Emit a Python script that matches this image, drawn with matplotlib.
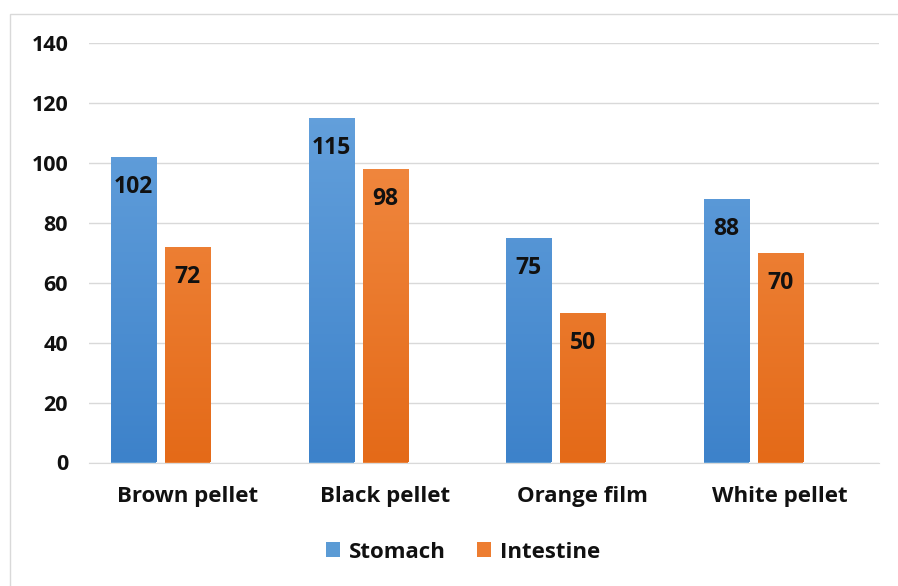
import numpy as np
import matplotlib
matplotlib.use("Agg")
import matplotlib.pyplot as plt
from matplotlib.patches import Rectangle
from matplotlib.colors import LinearSegmentedColormap

categories = ["Brown pellet", "Black pellet", "Orange film", "White pellet"]
stomach = [102, 115, 75, 88]
intestine = [72, 98, 50, 70]
series_names = ["Stomach", "Intestine"]
yticks = [0, 20, 40, 60, 80, 100, 120, 140]

plt.rcParams['font.family'] = ['Open Sans', 'DejaVu Sans']

fig = plt.figure(figsize=(8.98, 5.86), dpi=100)
ax = fig.add_axes([89/898, (586-462.5)/586, (879-89)/898, (462.5-42.7)/586])

# chart border
fig.patches.append(Rectangle((10/898, -0.1), 1.1, (586-14)/586 + 0.1, transform=fig.transFigure,
                             fill=False, edgecolor='#d9d9d9', linewidth=1.0))

x = np.arange(len(categories))
w = 0.228
off = 0.274
blue_cmap = LinearSegmentedColormap.from_list('b', ['#3d82ca', '#6ba6df'])
orange_cmap = LinearSegmentedColormap.from_list('o', ['#e46a18', '#f5924d'])

grad = np.linspace(0, 1, 256).reshape(-1, 1)
for vals, xpos, cmap, col, name in [(stomach, x - off, blue_cmap, '#5b9bd5', series_names[0]),
                                    (intestine, x, orange_cmap, '#ed7d31', series_names[1])]:
    bars = ax.bar(xpos, vals, width=w, color=col, label=name, zorder=2)
    for b, v in zip(bars, vals):
        x0 = b.get_x()
        im = ax.imshow(grad, extent=[x0, x0 + b.get_width(), 0, 140], origin='lower',
                       cmap=cmap, aspect='auto', zorder=2.5)
        im.set_clip_path(b)
        ax.annotate(str(v), (b.get_x() + b.get_width()/2, v), xytext=(0, -30),
                    textcoords='offset pixels',
                    ha='center', va='center', fontsize=16.5, fontweight='bold',
                    color='#111111', zorder=4)

ax.set_xlim(-0.5, 3.5)
ax.set_ylim(0, 140)
ax.set_yticks(yticks)
ax.set_xticks(x)
ax.set_xticklabels(categories)
ax.grid(axis='y', color='#d9d9d9', linewidth=1.0, zorder=0)
ax.set_axisbelow(True)
for s in ['top', 'right', 'left']:
    ax.spines[s].set_visible(False)
ax.spines['bottom'].set_color('#d9d9d9')
ax.tick_params(axis='both', length=0, colors='#111111')
ax.tick_params(axis='y', pad=15, labelsize=15.5)
ax.tick_params(axis='x', pad=17, labelsize=16)
for lab in ax.get_xticklabels() + ax.get_yticklabels():
    lab.set_fontweight('bold')

leg = fig.legend(loc='center', bbox_to_anchor=(463/898, 1 - 552/586), ncol=2, frameon=False,
                 prop={'size': 16, 'weight': 'bold'}, handlelength=0.65, handleheight=0.65,
                 handletextpad=0.4, columnspacing=1.4)
for t in leg.get_texts():
    t.set_color('#111111')

fig.savefig('out.png', dpi=100)
